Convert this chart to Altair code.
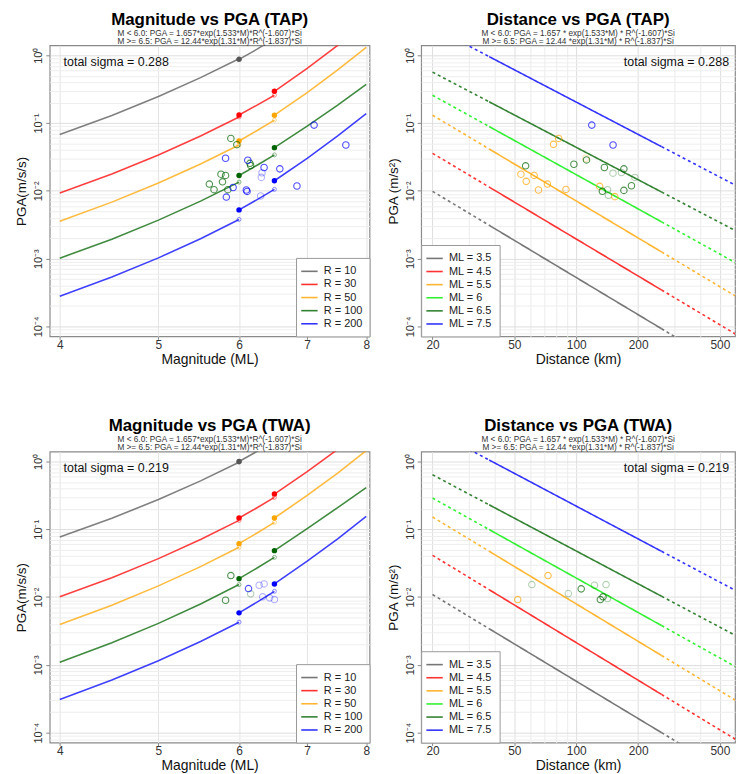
import altair as alt
import pandas as pd

FONT = "Liberation Sans"

# ---------------- categories / colours ----------------
R_LABELS = ["R = 10", "R = 30", "R = 50", "R = 100", "R = 200"]
R_COLORS = ["#555555", "#ff0000", "#ffa500", "#006400", "#0000ff"]
ML_LABELS = ["ML = 3.5", "ML = 4.5", "ML = 5.5", "ML = 6", "ML = 6.5", "ML = 7.5"]
ML_COLORS = ["#555555", "#ff0000", "#ffa500", "#00ee00", "#006400", "#0000ff"]

TITLE_SUB_MAG = ["M < 6.0: PGA = 1.657*exp(1.533*M)*R^(-1.607)*Si",
                 "M >= 6.5: PGA = 12.44*exp(1.31*M)*R^(-1.837)*Si"]
TITLE_SUB_DIST = ["M < 6.0: PGA = 1.657 * exp(1.533*M) * R^(-1.607)*Si",
                  "M >= 6.5: PGA = 12.44 *exp(1.31*M) * R^(-1.837)*Si"]
SIGMA_TAP = "0.288"
SIGMA_TWA = "0.219"

# ---------------- magnitude-panel curves (PGA per R) ----------------
SEG1_M = [4.0, 4.5, 5.0, 5.5, 6.0]
SEG2_M = [6.0, 6.25, 6.5]
SEG3_M = [6.5, 7.0, 7.5, 8.0]

TAP_SEG1 = [
    [0.0679, 0.1291, 0.246, 0.468, 0.891],
    [0.00929, 0.01772, 0.0338, 0.0645, 0.1230],
    [0.00357, 0.00682, 0.01303, 0.0249, 0.0475],
    [0.001016, 0.001938, 0.00370, 0.00706, 0.01346],
    [0.000278, 0.000534, 0.001026, 0.00197, 0.00379],
]
TAP_SEG2 = [
    [0.871, 1.23, 1.78],
    [0.1318, 0.184, 0.257],
    [0.0545, 0.0776, 0.1104],
    [0.01687, 0.0239, 0.0339],
    [0.00524, 0.00742, 0.01052],
]
TAP_SEG3 = [
    [2.0, 4.6, 10.0, 22.0],
    [0.294, 0.641, 1.40, 3.05],
    [0.1306, 0.282, 0.607, 1.309],
    [0.0434, 0.0902, 0.184, 0.372],
    [0.01409, 0.0302, 0.0646, 0.138],
]
TWA_SEG1 = [
    [0.0771, 0.1455, 0.2745, 0.518, 0.977],
    [0.01007, 0.01928, 0.0369, 0.0706, 0.1352],
    [0.00394, 0.00759, 0.01462, 0.0281, 0.0542],
    [0.001096, 0.00212, 0.00409, 0.00791, 0.01528],
    [0.000309, 0.000596, 0.001148, 0.00221, 0.00426],
]
TWA_SEG2 = [
    [1.0, 1.41, 2.0],
    [0.1466, 0.208, 0.295],
    [0.0614, 0.0881, 0.1265],
    [0.0187, 0.0268, 0.0385],
    [0.00585, 0.00843, 0.01216],
]
TWA_SEG3 = [
    [2.34, 5.0, 10.8, 23.0],
    [0.331, 0.708, 1.51, 3.24],
    [0.1466, 0.316, 0.676, 1.445],
    [0.0484, 0.1023, 0.209, 0.412],
    [0.01563, 0.0339, 0.0724, 0.155],
]

# ---------------- distance-panel lines (PGA per ML) ----------------
DIST_KNOTS = [20, 37.7, 260, 600]
TAP_DIST = [
    [0.00984, 0.003105, 0.0000925, 0.0000202],
    [0.0358, 0.01138, 0.000345, 0.000076],
    [0.1306, 0.0415, 0.001256, 0.000277],
    [0.257, 0.0889, 0.00349, 0.000859],
    [0.564, 0.206, 0.00962, 0.00255],
    [2.61, 0.955, 0.0449, 0.01194],
]
TWA_DIST = [
    [0.01089, 0.00341, 0.000100, 0.0000217],
    [0.0413, 0.01285, 0.000366, 0.0000785],
    [0.1517, 0.0474, 0.001374, 0.000296],
    [0.289, 0.0991, 0.00380, 0.000927],
    [0.637, 0.2296, 0.01028, 0.00268],
    [2.91, 1.052, 0.0473, 0.01236],
]

# ---------------- observations ----------------
# magnitude panels: (group, magnitude list, pga list)
TAP_MAG_OBS = [
    ("R = 100", [5.89, 5.97, 6.15, 6.16, 5.76, 5.82, 5.78, 5.61, 5.67, 5.85],
     [0.0594, 0.048, 0.0255, 0.0236, 0.0176, 0.0169, 0.0136, 0.0126, 0.0104, 0.0104]),
    ("R = 200", [7.11, 7.64, 5.82, 6.12, 6.35, 6.58, 5.92, 6.10, 6.11, 5.83, 6.84],
     [0.0933, 0.0475, 0.0303, 0.0283, 0.0221, 0.0211, 0.0112, 0.0103, 0.0098, 0.0081, 0.0118]),
]
TAP_MAG_OBS_LIGHT = [
    ("R = 200", [6.32, 6.31, 6.30], [0.0185, 0.0158, 0.0084]),
]
TWA_MAG_OBS = [
    ("R = 100", [5.89, 5.82], [0.02075, 0.00897]),
    ("R = 200", [6.13], [0.01334]),
]
TWA_MAG_OBS_LIGHT = [
    ("R = 100", [6.16], [0.01117]),
    ("R = 200", [6.28, 6.35, 6.33, 6.43, 6.50], [0.01493, 0.01563, 0.01007, 0.00973, 0.00918]),
]
# distance panels: (group, distance list, pga list)
TAP_DIST_OBS = [
    ("ML = 7.5", [119, 151], [0.0933, 0.0475]),
    ("ML = 5.5", [82.1, 77.5, 53.8, 62.4, 57.1, 72.4, 65.5, 89.1, 130, 154],
     [0.0594, 0.0485, 0.0176, 0.0169, 0.0138, 0.0126, 0.0103, 0.0105, 0.01164, 0.00822]),
    ("ML = 6.5", [56.7, 97.4, 112.2, 137, 170.5, 134, 170.5, 185.6],
     [0.0234, 0.0247, 0.0286, 0.0221, 0.0211, 0.00984, 0.01016, 0.0119]),
]
TAP_DIST_OBS_LIGHT = [
    ("ML = 5.5", [111.3], [0.0303]),
    ("ML = 6.5", [150.9, 166, 192.8, 142, 143.5], [0.01824, 0.01866, 0.01578, 0.01042, 0.00859]),
]
TWA_DIST_OBS = [
    ("ML = 5.5", [72.9, 51.9], [0.02075, 0.00918]),
    ("ML = 6.5", [105.7, 135, 131], [0.01321, 0.01007, 0.00918]),
]
TWA_DIST_OBS_LIGHT = [
    ("ML = 6.5", [60.8, 91.5, 122.6, 139.6, 142], [0.01528, 0.01127, 0.01493, 0.01528, 0.00951]),
]

# ---------------- axes ----------------
MAG_DOMAIN = [3.91, 8.06]
DIST_DOMAIN = [17.6, 592]
PGA_DOMAIN = [7.13e-5, 1.40]
MAG_TICKS = [4, 5, 6, 7, 8]
DIST_GRID = [20, 30, 40, 50, 60, 70, 80, 90, 100, 200, 300, 400, 500]
DIST_LABELS = [20, 50, 100, 200, 500]
PGA_GRID = [m * 10.0 ** k for k in range(-5, 1) for m in range(1, 10)]
PGA_GRID = [v for v in PGA_GRID if PGA_DOMAIN[0] <= v <= PGA_DOMAIN[1]]

LOG10 = "(log(datum.value)/LN10)"
IS_DEC = f"abs({LOG10} - round({LOG10})) < 0.001"
Y_LABEL = (f"{IS_DEC} ? (round({LOG10}) == 0 ? '10⁰' : round({LOG10}) == -1 ? '10⁻¹' : "
           f"round({LOG10}) == -2 ? '10⁻²' : round({LOG10}) == -3 ? '10⁻³' : '10⁻⁴') : ''")
DIST_TEST = " || ".join(f"datum.value == {v}" for v in DIST_LABELS)

W_L, W_R, H = 322, 316, 293


def y_axis(title):
    return alt.Axis(values=PGA_GRID, labelExpr=Y_LABEL, labelAngle=270, labelOverlap=False,
                    labelFlush=False, labelFontSize=11, labelPadding=2, labelAlign="center",
                    labelBaseline="bottom",
                    tickOpacity={"condition": {"test": IS_DEC, "value": 1}, "value": 0},
                    gridColor={"condition": {"test": IS_DEC, "value": "#dedede"}, "value": "#eeeeee"},
                    tickSize=4, tickColor="#888", domain=False, title=title,
                    titleFontSize=13.5, titleFontWeight="normal", titlePadding=4)


def legend(orient):
    return alt.Legend(title=None, orient=orient, offset=0, strokeColor="#999", fillColor="white",
                      padding=7, labelFontSize=11, labelFont=FONT, labelColor="#222",
                      symbolType="M-1.5,0L1.5,0", symbolSize=121, symbolStrokeWidth=1.6,
                      labelOffset=8, rowPadding=1.2, symbolOpacity=0.8)


def title_params(text, sub):
    return alt.TitleParams(text=text, subtitle=sub, fontSize=17, font=FONT, fontWeight="bold",
                           color="black", subtitleFont=FONT, subtitleFontSize=8.3,
                           subtitleColor="#333", subtitlePadding=0, subtitleLineHeight=8.0,
                           anchor="middle", offset=-1)


def obs_frame(obs, col):
    rows = []
    for grp, xs, ys in obs:
        for a, b in zip(xs, ys):
            rows.append({"group": grp, col: a, "pga": b})
    return pd.DataFrame(rows)


def sigma_text(sigma, align, xpos):
    return alt.Chart(pd.DataFrame({"t": [f"total sigma = {sigma}"]})).mark_text(
        align=align, baseline="middle", fontSize=12.5, font=FONT, color="#111"
    ).encode(x=alt.value(xpos), y=alt.value(17), text="t:N")


def mag_panel(title, seg1, seg2, seg3, obs, obs_light, sigma):
    rows, filled, opened = [], [], []
    for i, lab in enumerate(R_LABELS):
        for sname, ms, vs in (("a", SEG1_M, seg1[i]), ("b", SEG2_M, seg2[i]), ("c", SEG3_M, seg3[i])):
            for m, v in zip(ms, vs):
                rows.append({"group": lab, "seg": lab + sname, "mag": m, "pga": v})
        filled += [{"group": lab, "mag": SEG2_M[0], "pga": seg2[i][0]},
                   {"group": lab, "mag": SEG3_M[0], "pga": seg3[i][0]}]
        opened += [{"group": lab, "mag": SEG1_M[-1], "pga": seg1[i][-1]},
                   {"group": lab, "mag": SEG2_M[-1], "pga": seg2[i][-1]}]
    xenc = alt.X("mag:Q", scale=alt.Scale(type="log", domain=MAG_DOMAIN, nice=False),
                 axis=alt.Axis(values=MAG_TICKS, labelFontSize=12, labelFlush=False, tickSize=3,
                               tickColor="#888", domain=False, gridColor="#e4e4e4",
                               title="Magnitude (ML)", titleFontSize=14, titleFontWeight="normal",
                               titlePadding=2, labelPadding=0, labelOverlap=False))
    yenc = alt.Y("pga:Q", scale=alt.Scale(type="log", domain=PGA_DOMAIN, nice=False),
                 axis=y_axis("PGA(m/s/s)"))
    sc = alt.Scale(domain=R_LABELS, range=R_COLORS)
    lines = alt.Chart(pd.DataFrame(rows)).mark_line(clip=True, strokeWidth=1.6, opacity=0.75).encode(
        x=xenc, y=yenc, color=alt.Color("group:N", scale=sc, legend=legend("bottom-right")),
        detail="seg:N")
    op = alt.Chart(pd.DataFrame(opened)).mark_point(clip=True, shape="circle", filled=False, size=16,
                                                   strokeWidth=1, opacity=0.45).encode(
        x=xenc, y=yenc, stroke=alt.Stroke("group:N", scale=sc, legend=None))
    fd = alt.Chart(pd.DataFrame(filled)).mark_point(clip=True, shape="circle", filled=True, size=30,
                                                   opacity=1).encode(
        x=xenc, y=yenc, fill=alt.Fill("group:N", scale=sc, legend=None))
    pts = alt.Chart(obs_frame(obs, "mag")).mark_point(clip=True, shape="circle", filled=False, size=42,
                                                      strokeWidth=1.1, opacity=0.7).encode(
        x=xenc, y=yenc, stroke=alt.Stroke("group:N", scale=sc, legend=None))
    ptl = alt.Chart(obs_frame(obs_light, "mag")).mark_point(clip=True, shape="circle", filled=False,
                                                            size=42, strokeWidth=1.1, opacity=0.3).encode(
        x=xenc, y=yenc, stroke=alt.Stroke("group:N", scale=sc, legend=None))
    return alt.layer(lines, op, fd, ptl, pts, sigma_text(sigma, "left", 14)).properties(
        width=W_L, height=H, title=title_params(title, TITLE_SUB_MAG))


def dist_panel(title, vals, obs, obs_light, sigma):
    rows = []
    for i, lab in enumerate(ML_LABELS):
        for sname, style, idx in (("a", "dashed", [0, 1]), ("b", "solid", [1, 2]), ("c", "dashed", [2, 3])):
            for k in idx:
                rows.append({"group": lab, "seg": lab + sname, "style": style,
                             "dist": DIST_KNOTS[k], "pga": vals[i][k]})
    xenc = alt.X("dist:Q", scale=alt.Scale(type="log", domain=DIST_DOMAIN, nice=False),
                 axis=alt.Axis(values=DIST_GRID, labelExpr=f"({DIST_TEST}) ? datum.label : ''",
                               tickOpacity={"condition": {"test": DIST_TEST, "value": 1}, "value": 0},
                               gridColor={"condition": {"test": DIST_TEST, "value": "#dedede"},
                                          "value": "#ececec"},
                               labelFontSize=12, labelFlush=False, tickSize=3, tickColor="#888",
                               domain=False, title="Distance (km)", titleFontSize=14,
                               titleFontWeight="normal", titlePadding=2, labelPadding=0,
                               labelOverlap=False))
    yenc = alt.Y("pga:Q", scale=alt.Scale(type="log", domain=PGA_DOMAIN, nice=False),
                 axis=y_axis("PGA (m/s²)"))
    sc = alt.Scale(domain=ML_LABELS, range=ML_COLORS)
    lines = alt.Chart(pd.DataFrame(rows)).mark_line(clip=True, strokeWidth=1.6, opacity=0.8).encode(
        x=xenc, y=yenc, color=alt.Color("group:N", scale=sc, legend=legend("bottom-left")),
        strokeDash=alt.StrokeDash("style:N", scale=alt.Scale(domain=["solid", "dashed"],
                                                              range=[[1, 0], [3, 3]]), legend=None),
        detail="seg:N")
    pts = alt.Chart(obs_frame(obs, "dist")).mark_point(clip=True, shape="circle", filled=False, size=42,
                                                       strokeWidth=1.1, opacity=0.7).encode(
        x=xenc, y=yenc, stroke=alt.Stroke("group:N", scale=sc, legend=None))
    ptl = alt.Chart(obs_frame(obs_light, "dist")).mark_point(clip=True, shape="circle", filled=False,
                                                             size=42, strokeWidth=1.1, opacity=0.3).encode(
        x=xenc, y=yenc, stroke=alt.Stroke("group:N", scale=sc, legend=None))
    return alt.layer(lines, ptl, pts, sigma_text(sigma, "right", W_R - 6)).properties(
        width=W_R, height=H, title=title_params(title, TITLE_SUB_DIST))


RES = dict(color="independent", stroke="independent", fill="independent", strokeDash="independent",
           x="independent", y="independent")

top = alt.hconcat(
    mag_panel("Magnitude vs PGA (TAP)", TAP_SEG1, TAP_SEG2, TAP_SEG3, TAP_MAG_OBS, TAP_MAG_OBS_LIGHT, SIGMA_TAP),
    dist_panel("Distance vs PGA (TAP)", TAP_DIST, TAP_DIST_OBS, TAP_DIST_OBS_LIGHT, SIGMA_TAP),
    spacing=14,
).resolve_scale(**RES).resolve_legend(color="independent")
bottom = alt.hconcat(
    mag_panel("Magnitude vs PGA (TWA)", TWA_SEG1, TWA_SEG2, TWA_SEG3, TWA_MAG_OBS, TWA_MAG_OBS_LIGHT, SIGMA_TWA),
    dist_panel("Distance vs PGA (TWA)", TWA_DIST, TWA_DIST_OBS, TWA_DIST_OBS_LIGHT, SIGMA_TWA),
    spacing=14,
).resolve_scale(**RES).resolve_legend(color="independent")

chart = alt.vconcat(top, bottom, spacing=50).resolve_scale(**RES).resolve_legend(
    color="independent").properties(
    padding={"left": 6, "top": 0, "right": 0, "bottom": 0}
).configure(font=FONT).configure_view(stroke="#8a8a8a", strokeWidth=1.2).configure_axis(
    labelFont=FONT, titleFont=FONT, labelColor="#333", titleColor="#111"
)

chart.save("out.html", embed_options={"renderer": "svg", "actions": False})
